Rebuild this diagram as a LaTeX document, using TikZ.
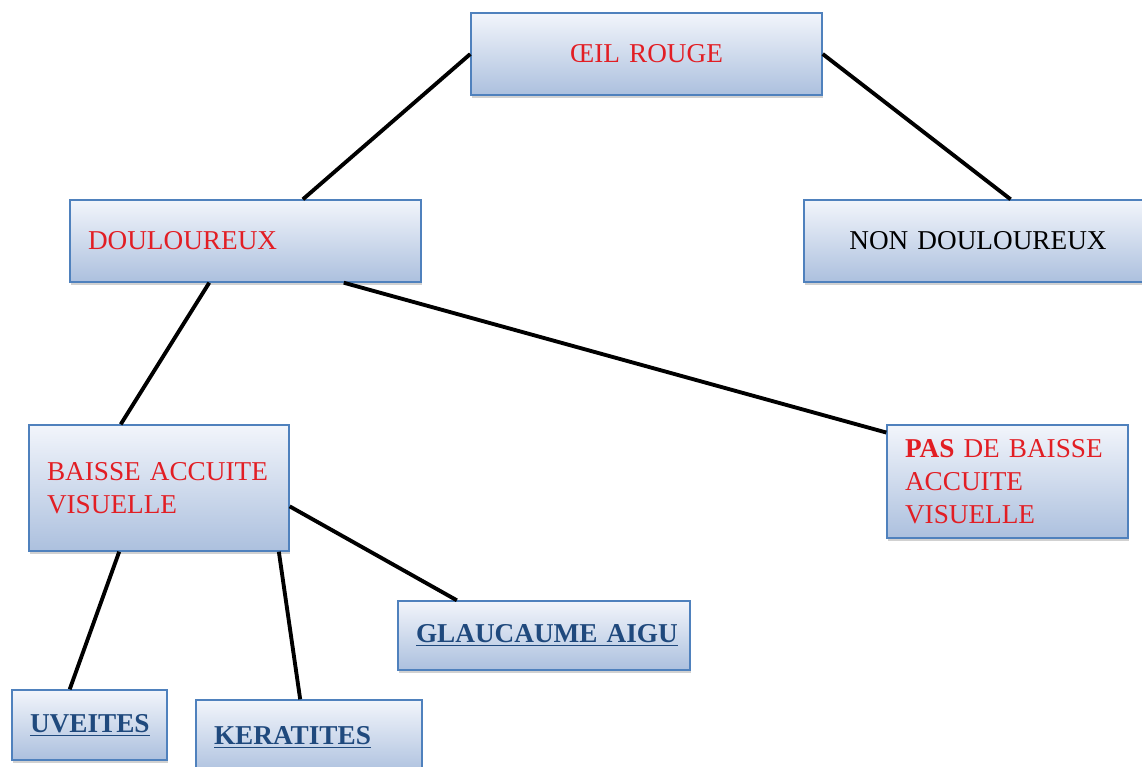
\documentclass[tikz,border=0pt]{standalone}
\usepackage{fontspec}
\setmainfont{Liberation Serif}
\usetikzlibrary{shadows}

\definecolor{rouge}{RGB}{226,30,36}
\definecolor{bleutexte}{RGB}{31,73,125}
\definecolor{bord}{RGB}{79,129,189}
\definecolor{haut}{RGB}{242,245,251}
\definecolor{bas}{RGB}{172,192,222}

\begin{document}
\begin{tikzpicture}[
	boite/.style={rectangle, draw=bord, line width=0.8pt,
		top color=haut, bottom color=bas,
		inner xsep=0.36cm, inner ysep=0pt,
		font=\fontsize{15.5}{18.7}\selectfont,
		drop shadow={shadow xshift=0.6pt, shadow yshift=-1.8pt, opacity=0.3, fill=black!60}},
	lien/.style={line width=2.2pt, black}
]

\path [use as bounding box] (0,0) rectangle (22.84,-15.32);

% BOXES
\node [boite, text width=6.3cm, minimum height=1.64cm, align=center, text=rouge]
	(oeil) at (12.93,-1.08) {ŒIL ROUGE};
\node [boite, text width=6.3cm, minimum height=1.64cm, align=left, text=rouge]
	(doul) at (4.91,-4.82) {DOULOUREUX};
\node [boite, text width=6.24cm, minimum height=1.64cm, align=center]
	(nondoul) at (19.56,-4.82) {NON DOULOUREUX};
\node [boite, text width=4.48cm, minimum height=2.52cm, align=left, text=rouge]
	(baisse) at (3.18,-9.76) {BAISSE ACCUITE\\VISUELLE};
\node [boite, text width=4.1cm, minimum height=2.26cm, align=left, text=rouge]
	(pasbaisse) at (20.15,-9.63) {\textbf{PAS} DE BAISSE\\ACCUITE\\VISUELLE};
\node [boite, text width=5.12cm, minimum height=1.38cm, align=center, text=bleutexte]
	(glaucome) at (10.88,-12.71) {\underline{\textbf{GLAUCAUME AIGU}}};
\node [boite, text width=2.38cm, minimum height=1.4cm, align=center, text=bleutexte]
	(uveites) at (1.79,-14.5) {\underline{\textbf{UVEITES}}};
\node [boite, text width=3.8cm, minimum height=1.5cm, align=left, text=bleutexte]
	(keratites) at (6.18,-14.75) {\underline{\textbf{KERATITES}}};

% LINKS
\draw [lien] (oeil.west) -- (doul.36);
\draw [lien] (oeil.east) -- (nondoul.52);
\draw [lien] (doul.229) -- (baisse.121);
\draw [lien] (doul.-23) -- (pasbaisse.158);
\draw [lien] (baisse.-8.7) -- (glaucome.158.8);
\draw [lien] (baisse.238) -- (uveites.119);
\draw [lien] (baisse.-28.1) -- (keratites.103.5);

\end{tikzpicture}
\end{document}
